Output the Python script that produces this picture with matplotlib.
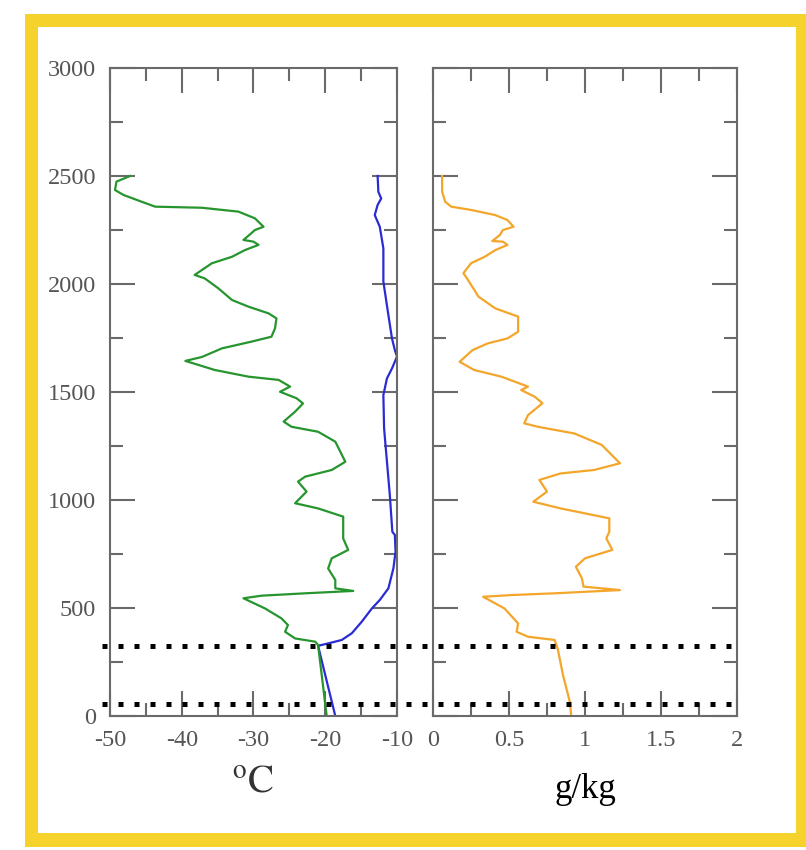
import matplotlib
matplotlib.use("Agg")
import matplotlib.pyplot as plt
from matplotlib.patches import Rectangle
from matplotlib.lines import Line2D
from matplotlib.ticker import MultipleLocator
import matplotlib.transforms as mtransforms

plt.rcParams["axes.unicode_minus"] = False
plt.rcParams["mathtext.fontset"] = "stix"

# dew point (green), degC vs height (m)
dew_t = [-47.2, -49.1, -49.3, -48.1, -45.6, -43.7, -37.2, -32.1, -29.8, -28.6,
         -29.8, -30.3, -31.4, -30.0, -29.3, -31.2, -33.0, -35.8, -38.2, -36.8,
         -34.9, -33.0, -30.7, -27.9, -26.8, -27.0, -27.5, -30.3, -34.4, -37.2,
         -39.5, -35.4, -30.7, -26.5, -24.9, -26.3, -24.0, -23.1, -24.2, -25.8,
         -24.7, -21.0, -18.6, -17.2, -19.1, -22.8, -23.8, -22.6, -24.2, -21.0,
         -17.5, -17.5, -17.5, -16.8, -19.1, -19.6, -18.6, -18.6, -16.1, -22.8,
         -28.9, -31.4, -28.4, -26.1, -25.2, -25.6, -24.2, -21.4, -21.0, -19.8]
dew_h = [2500, 2474, 2435, 2412, 2381, 2358, 2353, 2335, 2304, 2265,
         2250, 2235, 2204, 2196, 2181, 2157, 2126, 2096, 2042, 2026,
         1980, 1926, 1895, 1864, 1841, 1795, 1756, 1733, 1702, 1662,
         1644, 1602, 1571, 1556, 1525, 1501, 1471, 1447, 1409, 1363,
         1339, 1316, 1270, 1177, 1139, 1108, 1085, 1039, 985, 961,
         923, 853, 822, 769, 730, 683, 630, 591, 579, 568,
         557, 545, 498, 452, 421, 390, 359, 344, 329, 0]

# temperature (blue)
temp_t = [-12.7, -12.6, -12.2, -12.7, -13.1, -12.4, -11.9, -11.9, -11.2, -10.7,
          -10.3, -10.0, -10.7, -11.4, -11.9, -11.8, -11.4, -11.0, -10.65, -10.3,
          -10.2, -10.5, -11.2, -12.4, -13.5, -14.9, -16.3, -17.7, -19.6, -21.0,
          -18.6]
temp_h = [2500, 2427, 2396, 2366, 2319, 2265, 2165, 2011, 1856, 1748,
          1694, 1664, 1609, 1563, 1486, 1332, 1177, 1023, 853, 838,
          761, 684, 591, 537, 498, 437, 383, 352, 336, 325,
          0]

# mixing ratio (orange), g/kg
mix_q = [0.06, 0.06, 0.08, 0.12, 0.25, 0.41, 0.49, 0.53, 0.46, 0.44,
         0.39, 0.46, 0.49, 0.41, 0.34, 0.25, 0.20, 0.23, 0.30, 0.41,
         0.56, 0.56, 0.49, 0.36, 0.26, 0.175, 0.27, 0.45, 0.625, 0.58,
         0.67, 0.72, 0.625, 0.60, 0.69, 0.93, 1.11, 1.23, 1.06, 0.84,
         0.70, 0.75, 0.66, 0.84, 1.16, 1.16, 1.14, 1.18, 1.00, 0.94,
         0.98, 0.99, 1.23, 0.80, 0.52, 0.33, 0.47, 0.56, 0.55, 0.625,
         0.80, 0.82, 0.855, 0.90, 0.91]
mix_h = [2500, 2427, 2381, 2358, 2343, 2319, 2296, 2265, 2250, 2227,
         2199, 2196, 2181, 2157, 2126, 2096, 2050, 2019, 1941, 1887,
         1849, 1779, 1748, 1725, 1694, 1640, 1602, 1571, 1525, 1509,
         1478, 1448, 1393, 1355, 1339, 1308, 1255, 1170, 1139, 1123,
         1093, 1039, 992, 961, 915, 853, 822, 769, 730, 691,
         637, 599, 583, 568, 560, 552, 498, 429, 390, 367,
         352, 313, 190, 66, 0]

levels = [325, 55]

W, H = 806, 850
fig = plt.figure(figsize=(W / 100, H / 100), dpi=100)

# yellow frame
fig.patches.append(Rectangle((25 / W, 3 / H), 781 / W, 833 / H, transform=fig.transFigure,
                             facecolor="#f5d22c", edgecolor="none", zorder=-10))
fig.patches.append(Rectangle((38 / W, 17 / H), 758 / W, 806 / H, transform=fig.transFigure,
                             facecolor="white", edgecolor="none", zorder=-9))

ax1 = fig.add_axes([110 / W, 134 / H, 287 / W, 648 / H])
ax2 = fig.add_axes([433 / W, 134 / H, 304 / W, 648 / H])

ax1.plot(temp_t, temp_h, color="#2b2bd6", lw=1.6)
ax1.plot(dew_t, dew_h, color="#26952e", lw=1.6)
ax2.plot(mix_q, mix_h, color="#f3a62a", lw=1.6)

ax1.set_xlim(-50, -10)
ax2.set_xlim(0, 2)
ax1.xaxis.set_major_locator(MultipleLocator(10))
ax1.xaxis.set_minor_locator(MultipleLocator(5))
ax2.xaxis.set_minor_locator(MultipleLocator(0.25))
ax2.set_xticks([0, 0.5, 1, 1.5, 2])
ax2.set_xticklabels(["0", "0.5", "1", "1.5", "2"])

gray = "#6a6a6a"
for ax in (ax1, ax2):
    ax.set_ylim(0, 3000)
    ax.yaxis.set_major_locator(MultipleLocator(500))
    ax.yaxis.set_minor_locator(MultipleLocator(250))
    ax.tick_params(which="both", direction="in", top=True, right=True,
                   color=gray, width=1.5, labelcolor="#555555",
                   labelsize=17.5, pad=10)
    ax.tick_params(which="major", length=18)
    ax.tick_params(which="minor", length=9.5)
    for s in ax.spines.values():
        s.set_color(gray)
        s.set_linewidth(1.5)
    for lab in ax.get_xticklabels() + ax.get_yticklabels():
        lab.set_family("Liberation Serif")

ax2.tick_params(labelleft=False)

ax1.set_xlabel("$^{\\mathrm{o}}\\mathrm{C}$", fontsize=28, color="#333333",
               labelpad=8)
ax2.set_xlabel("g/kg", fontsize=25, family="Liberation Serif", color="black",
               labelpad=16)

# dotted lines across both panels
tr = mtransforms.blended_transform_factory(fig.transFigure, ax1.transData)
for lv in levels:
    fig.add_artist(Line2D([102 / W, 735 / W], [lv, lv], transform=tr,
                          color="black", lw=3.6, dashes=(1, 2.2),
                          dash_capstyle="butt", zorder=5))

fig.savefig("out.png", dpi=100)
